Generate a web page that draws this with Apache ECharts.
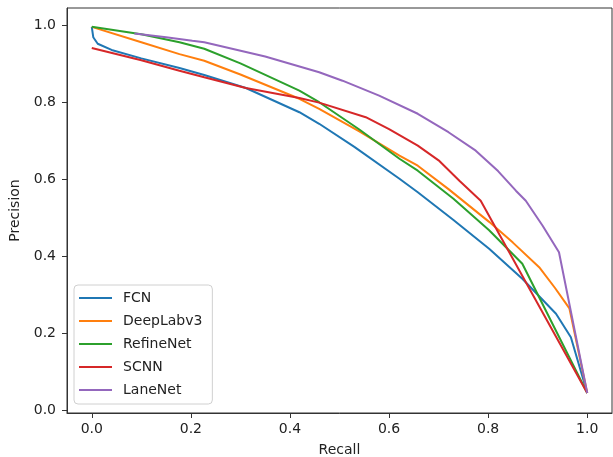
<!DOCTYPE html>
<html><head><meta charset="utf-8">
<script src="https://cdn.jsdelivr.net/npm/echarts@6/dist/echarts.min.js"></script>
<style>html,body{margin:0;padding:0;background:#fff}#c{width:613px;height:457px}</style>
</head><body><div id="c"></div>
<script>
const seriesNames = ['FCN', 'DeepLabv3', 'RefineNet', 'SCNN', 'LaneNet'];
const seriesColors = ['#1f77b4', '#ff7f0e', '#2ca02c', '#d62728', '#9467bd'];
// [recall, precision]
const fcn = [[0,0.997],[0.003,0.97],[0.012,0.953],[0.04,0.937],[0.1,0.915],[0.177,0.89],[0.227,0.872],[0.311,0.838],[0.419,0.775],[0.459,0.745],[0.53,0.685],[0.621,0.602],[0.658,0.567],[0.73,0.495],[0.802,0.42],[0.869,0.342],[0.937,0.251],[0.967,0.19],[1.0,0.045]];
const deeplab = [[0,0.997],[0.1,0.957],[0.177,0.926],[0.227,0.909],[0.3,0.873],[0.419,0.81],[0.459,0.784],[0.54,0.725],[0.621,0.662],[0.658,0.636],[0.72,0.575],[0.802,0.49],[0.85,0.436],[0.903,0.372],[0.935,0.318],[0.964,0.265],[1.0,0.045]];
const refinenet = [[0,0.997],[0.1,0.978],[0.177,0.957],[0.227,0.94],[0.3,0.902],[0.419,0.831],[0.459,0.801],[0.54,0.73],[0.621,0.654],[0.658,0.623],[0.73,0.55],[0.802,0.468],[0.869,0.381],[1.0,0.045]];
const scnn = [[0,0.942],[0.1,0.91],[0.177,0.883],[0.227,0.866],[0.311,0.838],[0.419,0.812],[0.459,0.8],[0.553,0.762],[0.6,0.731],[0.658,0.688],[0.7,0.65],[0.742,0.597],[0.785,0.545],[1.0,0.045]];
const lanenet = [[0.086,0.98],[0.15,0.97],[0.203,0.961],[0.227,0.957],[0.35,0.92],[0.459,0.879],[0.506,0.857],[0.58,0.818],[0.658,0.771],[0.72,0.723],[0.775,0.675],[0.82,0.622],[0.856,0.571],[0.876,0.545],[0.91,0.48],[0.943,0.411],[1.0,0.045]];
const tickValues = [0, 0.2, 0.4, 0.6, 0.8, 1.0];
const xLabel = 'Recall';
const yLabel = 'Precision';

const allData = [fcn, deeplab, refinenet, scnn, lanenet];
const font = 'DejaVu Sans';
const chart = echarts.init(document.getElementById('c'), null, {renderer: 'canvas'});
chart.setOption({
  animation: false,
  backgroundColor: '#fff',
  textStyle: {fontFamily: font},
  grid: {left: 67, right: 1, top: 8, bottom: 44, outerBoundsMode: 'none', containLabel: false, show: true, borderColor: '#333', borderWidth: 1, backgroundColor: 'transparent'},
  xAxis: {
    type: 'value', min: -0.05, max: 1.05,
    name: xLabel, nameLocation: 'middle', nameGap: 30,
    nameTextStyle: {fontSize: 14, color: '#222', fontFamily: font},
    axisLine: {show: true, onZero: false, lineStyle: {color: '#333', width: 1}},
    axisTick: {show: true, inside: false, length: 5, lineStyle: {color: '#333'}, customValues: tickValues},
    axisLabel: {fontSize: 14, color: '#222', margin: 9, fontFamily: font, customValues: tickValues, formatter: v => v.toFixed(1)},
    splitLine: {show: false}
  },
  yAxis: {
    type: 'value', min: -0.007, max: 1.046,
    name: yLabel, nameLocation: 'middle', nameGap: 39, nameRotate: 90,
    nameTextStyle: {fontSize: 14, color: '#222', fontFamily: font},
    axisLine: {show: true, onZero: false, lineStyle: {color: '#333', width: 1}},
    axisTick: {show: true, inside: false, length: 5, lineStyle: {color: '#333'}, customValues: tickValues},
    axisLabel: {fontSize: 14, color: '#222', margin: 11, fontFamily: font, customValues: tickValues, formatter: v => v.toFixed(1)},
    splitLine: {show: false}
  },
  legend: {
    orient: 'vertical', left: 74, top: 285,
    icon: 'rect', itemWidth: 33, itemHeight: 2, itemGap: 9,
    padding: [6, 10, 7, 5],
    backgroundColor: 'rgba(255,255,255,0.8)', borderColor: '#d0d0d0', borderWidth: 1, borderRadius: 4,
    textStyle: {fontSize: 14, color: '#222', lineHeight: 14, fontFamily: font, padding: [0, 0, 0, 6]},
    data: seriesNames
  },
  series: seriesNames.map((n, i) => ({
    name: n, type: 'line', data: allData[i], symbol: 'none', showSymbol: false,
    lineStyle: {width: 2, color: seriesColors[i]}, itemStyle: {color: seriesColors[i]}
  }))
});
</script></body></html>
